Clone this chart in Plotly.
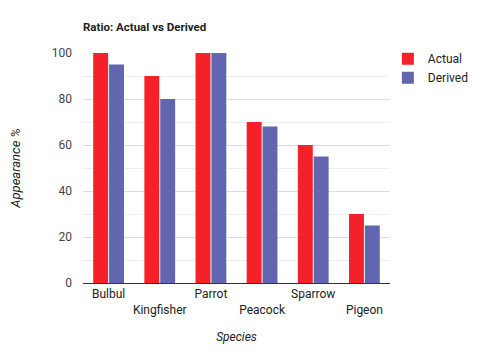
import plotly.graph_objects as go

# données
species = ["Bulbul", "Kingfisher", "Parrot", "Peacock", "Sparrow", "Pigeon"]
actual = [100, 90, 100, 70, 60, 30]
derived = [95, 80, 100, 68, 55, 25]
y_ticks = [0, 20, 40, 60, 80, 100]

# étiquettes en quinconce (une sur deux décalée d'une ligne)
tick_text = [s if i % 2 == 0 else "<br>" + s for i, s in enumerate(species)]

fig = go.Figure()
fig.add_trace(go.Bar(x=species, y=actual, name="Actual",
                     marker=dict(color="#F52128", line=dict(width=0))))
fig.add_trace(go.Bar(x=species, y=derived, name="Derived",
                     marker=dict(color="#6266B1", line=dict(width=0))))

# la page ajoute ~8 px de marge (body), on en tient compte
fig.update_layout(
    width=480, height=351,
    template="plotly_white",
    font=dict(family="Roboto, Arial", size=12, color="#444"),
    title=dict(text="<b>Ratio: Actual vs Derived</b>", x=75 / 480, xref="container",
               xanchor="left", y=1 - 19 / 351, yref="container", yanchor="middle",
               font=dict(size=11.5, color="#222")),
    barmode="group", bargap=0.38, bargroupgap=0.06,
    margin=dict(l=75, r=98, t=45, b=76, autoexpand=False),
    legend=dict(x=0.993, y=1.038, xanchor="left", yanchor="top",
                font=dict(size=12, color="#222"), itemwidth=30),
    plot_bgcolor="white",
)
fig.update_xaxes(
    tickvals=species, ticktext=tick_text, showgrid=False, automargin=False,
    showline=True, linecolor="#333", linewidth=1,
    title=dict(text="<i>Species</i>", standoff=16, font=dict(size=12, color="#222")),
    tickfont=dict(size=12, color="#222"),
)
fig.update_yaxes(
    range=[0, 100], tickvals=y_ticks, showgrid=True, gridcolor="#ddd",
    minor=dict(dtick=10, showgrid=True, gridcolor="#eee"),
    zeroline=False, ticks="", ticklen=0, automargin=False, ticklabelstandoff=10,
    title=dict(text="<i>Appearance %</i>", standoff=32, font=dict(size=13, color="#222")),
    tickfont=dict(size=12, color="#444"),
)

fig.write_html("out.html")
